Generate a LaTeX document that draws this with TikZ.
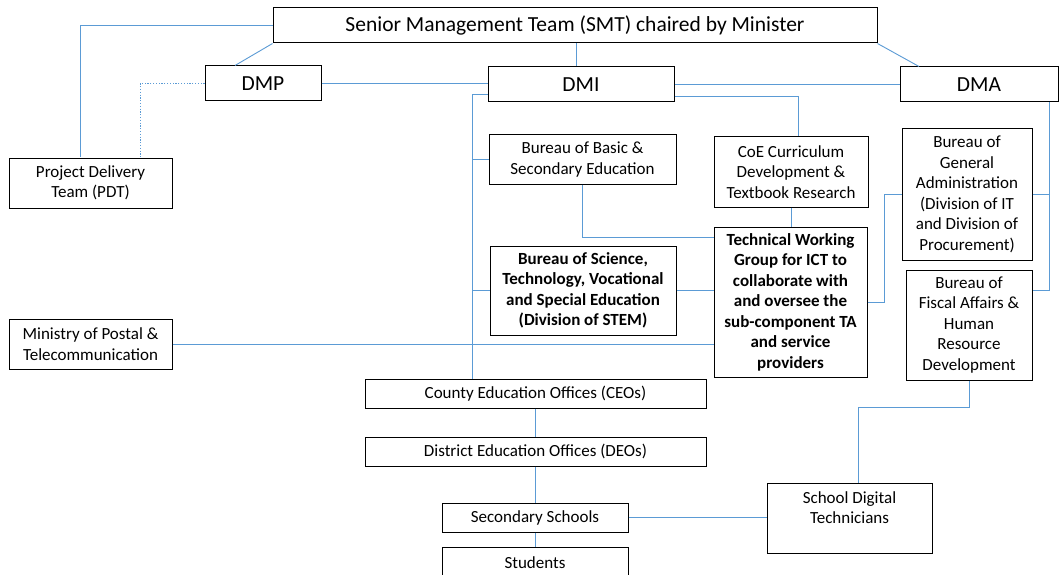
\documentclass[tikz,border=0pt]{standalone}
\usepackage{fontspec}
\setmainfont{Carlito}
\definecolor{linkblue}{RGB}{91,155,213}
\tikzset{
  box/.style={draw=black, line width=1pt, fill=white, inner sep=0pt, align=center,
              font=\fontsize{17}{20.5}\selectfont},
  bigbox/.style={box, font=\fontsize{21.5}{25}\selectfont},
  boldbox/.style={box, font=\fontsize{17}{20.5}\selectfont\bfseries},
  conn/.style={draw=linkblue, line width=0.9pt},
  dotconn/.style={conn, dash pattern=on 1.2pt off 1.6pt},
}
\begin{document}
\begin{tikzpicture}[x=1pt, y=-1pt]
\fill[white] (0,0) rectangle (1060,575);
\useasboundingbox (0,0) rectangle (1060,575);

% management level
\node[bigbox, minimum width=604, minimum height=35] (smt) at (575,25.5)
  {Senior Management Team (SMT) chaired by Minister};
\node[bigbox, minimum width=116, minimum height=35] (dmp) at (263,83.5) {DMP};
\node[bigbox, minimum width=186, minimum height=35] (dmi) at (581,84.5) {DMI};
\node[bigbox, minimum width=158, minimum height=35] (dma) at (979,84.5) {DMA};

% bureaus and working groups
\node[box, minimum width=163, minimum height=50] (pdt) at (90.5,183)
  {Project Delivery\\Team (PDT)};
\node[box, minimum width=187, minimum height=49] (bbasic) at (582.5,159.5)
  {Bureau of Basic \&\\Secondary Education};
\node[box, minimum width=154, minimum height=70] (coe) at (791,172)
  {CoE Curriculum\\Development \&\\Textbook Research};
\node[box, minimum width=130, minimum height=131] (ga) at (967,194.5)
  {Bureau of\\General\\Administration\\(Division of IT\\and Division of\\Procurement)};
\node[boldbox, minimum width=153, minimum height=150] (twg) at (790.5,302)
  {Technical Working\\Group for ICT to\\collaborate with\\and oversee the\\sub-component TA\\and service\\providers};
\node[boldbox, minimum width=186, minimum height=89] (bsci) at (583,290.5)
  {Bureau of Science,\\Technology, Vocational\\and Special Education\\(Division of STEM)};
\node[box, minimum width=163, minimum height=50] (mpt) at (90.5,344)
  {Ministry of Postal \&\\Telecommunication};
\node[box, minimum width=126, minimum height=110] (fiscal) at (969,325)
  {Bureau of\\Fiscal Affairs \&\\Human\\Resource\\Development};

% field level
\node[box, minimum width=341, minimum height=29] (ceo) at (535.5,393.5)
  {County Education Offices (CEOs)};
\node[box, minimum width=341, minimum height=29] (deo) at (535.5,451.5)
  {District Education Offices (DEOs)};
\node[box, minimum width=186, minimum height=29] (sec) at (535,517.5)
  {Secondary Schools};
\node[box, minimum width=186, minimum height=31] (stu) at (535,562.5)
  {Students};
\node[box, minimum width=165, minimum height=70] (sdt) at (849.5,518)
  {School Digital\\Technicians\\~};

% junction points of the connectors
\coordinate (spine) at ([xshift=-63.5pt]ceo.north);
\coordinate (gaJ) at ([xshift=-17pt]ga.west);
\coordinate (dmaJ) at ([xshift=70pt]dma.south);

% connectors
\draw[conn] (smt.west) -| ([xshift=-10.5pt]pdt.north);
\draw[conn] (smt.south west) -- ([xshift=-28pt]dmp.north);
\draw[conn] ([xshift=1pt]smt.south) -- ([xshift=-5pt]dmi.north);
\draw[conn] (smt.south east) -- ([xshift=-60pt]dma.north);
\draw[conn] (dmp.east) -- (dmp.east -| dmi.west);
\draw[dotconn] (dmp.west) -| ([xshift=49.5pt]pdt.north);
\draw[conn] (dmi.east) -- (dmi.east -| dma.west);
\draw[conn] ([yshift=-9.5pt]dmi.west) -| (spine);
\draw[conn] (bbasic.west) -- (bbasic.west -| spine);
\draw[conn] (bsci.west) -- (bsci.west -| spine);
\draw[conn] ([yshift=-11.5pt]dmi.east) -| ([xshift=7pt]coe.north);
\draw[conn] (coe.south) -- (coe.south |- twg.north);
\draw[conn] (bbasic.south) |- ([yshift=65pt]twg.west);
\draw[conn] (bsci.east) -- (bsci.east -| twg.west);
\draw[conn] (mpt.east) -- (mpt.east -| twg.west);
\draw[conn] (twg.east) -| (gaJ) -- (ga.west);
\draw[conn] (dmaJ) |- ([yshift=35pt]fiscal.east);
\draw[conn] (ga.east) -- (ga.east -| dmaJ);
\draw[conn] (fiscal.south) -- ++(0,27) -| ([xshift=8.5pt]sdt.north);
\draw[conn] (ceo.south) -- (deo.north);
\draw[conn] (deo.south) -- (deo.south |- sec.north);
\draw[conn] (sec.south) -- (stu.north);
\draw[conn] (sec.east) -- (sec.east -| sdt.west);
\end{tikzpicture}
\end{document}
